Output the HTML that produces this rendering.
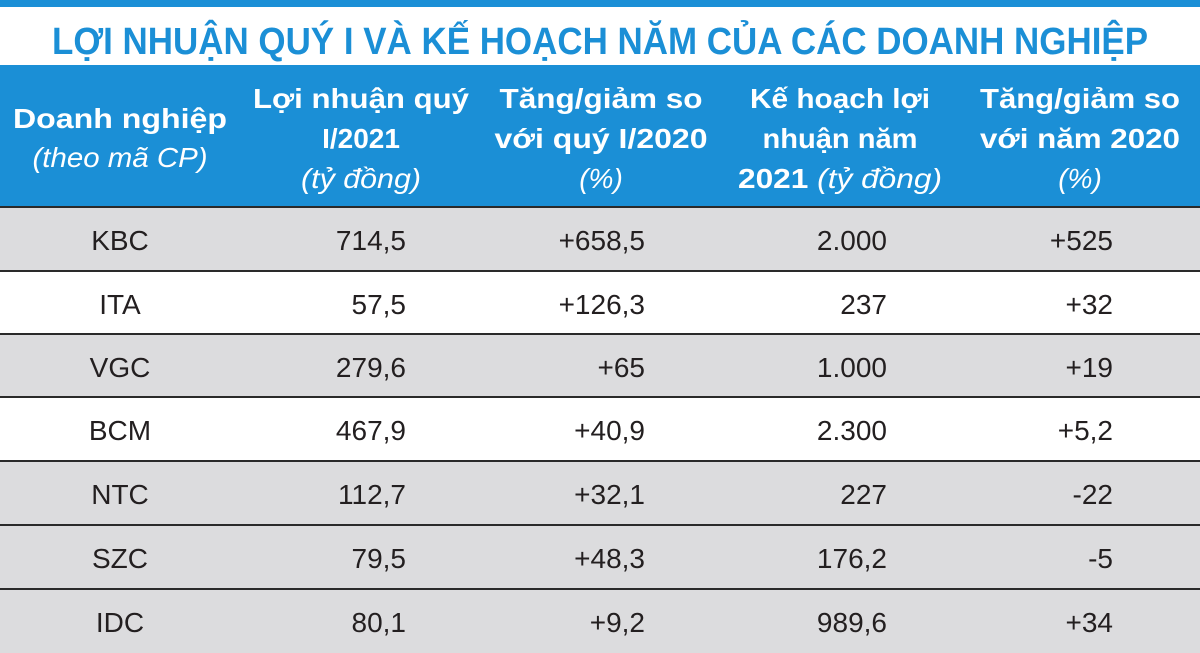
<!DOCTYPE html>
<html><head><meta charset="utf-8"><style>
html,body{margin:0;padding:0;background:#fff;}
svg{display:block;}
text{font-family:"Liberation Sans",sans-serif;}
</style></head><body>
<svg width="1200" height="653" viewBox="0 0 1200 653" xmlns="http://www.w3.org/2000/svg">
<rect x="0" y="0" width="1200" height="7" fill="#1b8fd6"/>
<text x="600" y="54" text-anchor="middle" font-size="38" font-weight="bold" fill="#1b8fd6" textLength="1096" lengthAdjust="spacingAndGlyphs">LỢI NHUẬN QUÝ I VÀ KẾ HOẠCH NĂM CỦA CÁC DOANH NGHIỆP</text>
<rect x="0" y="65" width="1200" height="142" fill="#1b8fd6"/>
<g fill="#fff" font-size="28" text-anchor="middle">
<text x="120" y="128" font-weight="bold" textLength="214" lengthAdjust="spacingAndGlyphs">Doanh nghiệp</text>
<text x="120" y="167" font-style="italic" textLength="175" lengthAdjust="spacingAndGlyphs">(theo mã CP)</text>
<text x="361" y="108" font-weight="bold" textLength="216" lengthAdjust="spacingAndGlyphs">Lợi nhuận quý</text>
<text x="361" y="148" font-weight="bold">I/2021</text>
<text x="361" y="188" font-style="italic" textLength="120" lengthAdjust="spacingAndGlyphs">(tỷ đồng)</text>
<text x="601" y="108" font-weight="bold" textLength="203" lengthAdjust="spacingAndGlyphs">Tăng/giảm so</text>
<text x="601" y="148" font-weight="bold" textLength="213" lengthAdjust="spacingAndGlyphs">với quý I/2020</text>
<text x="601" y="188" font-style="italic">(%)</text>
<text x="840" y="108" font-weight="bold" textLength="180" lengthAdjust="spacingAndGlyphs">Kế hoạch lợi</text>
<text x="840" y="148" font-weight="bold" textLength="155" lengthAdjust="spacingAndGlyphs">nhuận năm</text>
<text x="840" y="188" textLength="204" lengthAdjust="spacingAndGlyphs"><tspan font-weight="bold">2021 </tspan><tspan font-style="italic">(tỷ đồng)</tspan></text>
<text x="1080" y="108" font-weight="bold" textLength="200" lengthAdjust="spacingAndGlyphs">Tăng/giảm so</text>
<text x="1080" y="148" font-weight="bold" textLength="200" lengthAdjust="spacingAndGlyphs">với năm 2020</text>
<text x="1080" y="188" font-style="italic">(%)</text>
</g>
<g fill="#dcdcde">
<rect x="0" y="207" width="1200" height="64"/>
<rect x="0" y="334" width="1200" height="63"/>
<rect x="0" y="461" width="1200" height="192"/>
</g>
<g stroke="#2a2a2a" stroke-width="2">
<line x1="0" y1="207" x2="1200" y2="207"/>
<line x1="0" y1="271" x2="1200" y2="271"/>
<line x1="0" y1="334" x2="1200" y2="334"/>
<line x1="0" y1="397" x2="1200" y2="397"/>
<line x1="0" y1="461" x2="1200" y2="461"/>
<line x1="0" y1="525" x2="1200" y2="525"/>
<line x1="0" y1="589" x2="1200" y2="589"/>
</g>
<g fill="#231f20" font-size="28">
<g text-anchor="middle">
<text x="120" y="250">KBC</text>
<text x="120" y="314">ITA</text>
<text x="120" y="377">VGC</text>
<text x="120" y="440">BCM</text>
<text x="120" y="504">NTC</text>
<text x="120" y="568">SZC</text>
<text x="120" y="632">IDC</text>
</g>
<g text-anchor="end">
<text x="406" y="250">714,5</text><text x="645" y="250">+658,5</text><text x="887" y="250">2.000</text><text x="1113" y="250">+525</text>
<text x="406" y="314">57,5</text><text x="645" y="314">+126,3</text><text x="887" y="314">237</text><text x="1113" y="314">+32</text>
<text x="406" y="377">279,6</text><text x="645" y="377">+65</text><text x="887" y="377">1.000</text><text x="1113" y="377">+19</text>
<text x="406" y="440">467,9</text><text x="645" y="440">+40,9</text><text x="887" y="440">2.300</text><text x="1113" y="440">+5,2</text>
<text x="406" y="504">112,7</text><text x="645" y="504">+32,1</text><text x="887" y="504">227</text><text x="1113" y="504">-22</text>
<text x="406" y="568">79,5</text><text x="645" y="568">+48,3</text><text x="887" y="568">176,2</text><text x="1113" y="568">-5</text>
<text x="406" y="632">80,1</text><text x="645" y="632">+9,2</text><text x="887" y="632">989,6</text><text x="1113" y="632">+34</text>
</g>
</g>
</svg>
</body></html>
